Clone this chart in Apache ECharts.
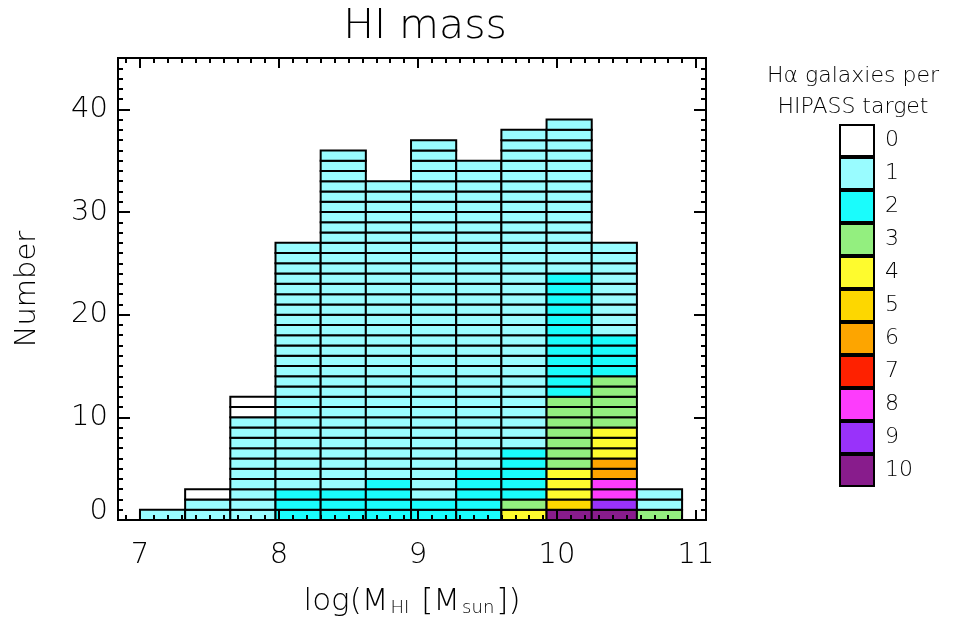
<!DOCTYPE html>
<html><head><meta charset="utf-8">
<script src="https://cdn.jsdelivr.net/npm/echarts@6/dist/echarts.min.js"></script>
<style>html,body{margin:0;padding:0;background:#fff}#c{width:953px;height:623px}</style>
</head><body><div id="c"></div>
<script>
// ---- data ----
const categories = ['0','1','2','3','4','5','6','7','8','9','10'];
const catColors = ['#ffffff','#99fcff','#1afcfc','#93ef7f','#fefb2e','#fdd700','#fda500','#fe2100','#fd3cfc','#9932fa','#881c8c'];
const binLo = [7.000, 7.325, 7.650, 7.975, 8.300, 8.625, 8.950, 9.275, 9.600, 9.925, 10.250, 10.575];
const binWidth = 0.325;
// counts per category (number of Halpha galaxies per HIPASS target), per bin
const n0  = [0,1,2,0,0,0,0,0,0,0,0,0];
const n1  = [1,2,10,24,33,29,35,30,31,15,9,2];
const n2  = [0,0,0,3,3,4,2,5,5,12,4,0];
const n3  = [0,0,0,0,0,0,0,0,1,7,5,1];
const n4  = [0,0,0,0,0,0,0,0,1,3,3,0];
const n5  = [0,0,0,0,0,0,0,0,0,1,0,0];
const n6  = [0,0,0,0,0,0,0,0,0,0,2,0];
const n7  = [0,0,0,0,0,0,0,0,0,0,0,0];
const n8  = [0,0,0,0,0,0,0,0,0,0,2,0];
const n9  = [0,0,0,0,0,0,0,0,0,0,1,0];
const n10 = [0,0,0,0,0,0,0,0,0,1,1,0];
const xTickValues = [7,8,9,10,11];
const yTickValues = [0,10,20,30,40];
const xRange = [6.842, 11.072];
const yRange = [0, 45];

// ---- build ----
const counts = [n0,n1,n2,n3,n4,n5,n6,n7,n8,n9,n10];
const cells = [];
binLo.forEach((x0, b) => {
  let level = 0;
  for (let c = 10; c >= 0; c--) {
    for (let k = 0; k < counts[c][b]; k++) { cells.push([x0, level, c]); level++; }
  }
});
const xMinor = [];
for (let i = Math.ceil(xRange[0]*10); i <= Math.floor(xRange[1]*10); i++) if (i % 10 !== 0) xMinor.push(i/10);
const yMinor = [];
for (let i = 1; i < yRange[1]; i++) if (i % 10 !== 0) yMinor.push(i);

const FONT = 'DejaVu Sans';
const FW = 200;
const chart = echarts.init(document.getElementById('c'), null, {renderer: 'canvas'});

function xAx(pos, tickVals, len, labels) {
  return {
    type: 'value', gridIndex: 0, position: pos, offset: 0, min: xRange[0], max: xRange[1], z: 10,
    axisLine: {show: false, onZero: false}, splitLine: {show: false},
    axisTick: {show: true, inside: true, length: len, customValues: tickVals, lineStyle: {color: '#000', width: 2}},
    axisLabel: labels ? {show: true, customValues: xTickValues, margin: 21, color: '#000', fontFamily: FONT, fontWeight: FW, fontSize: 29} : {show: false}
  };
}
function yAx(pos, tickVals, len, labels) {
  return {
    type: 'value', gridIndex: 0, position: pos, offset: 0, min: yRange[0], max: yRange[1], z: 10,
    axisLine: {show: false, onZero: false}, splitLine: {show: false},
    axisTick: {show: true, inside: true, length: len, customValues: tickVals, lineStyle: {color: '#000', width: 2}},
    axisLabel: labels ? {show: true, customValues: yTickValues, margin: 10, color: '#000', fontFamily: FONT, fontWeight: FW, fontSize: 29, verticalAlignMinLabel: 'bottom', padding: [0,0,-6,0]} : {show: false}
  };
}

const xMain = xAx('bottom', xTickValues, 10, true);
xMain.name = '{n|log(M}{s|HI}{n| [M}{s|sun}{n|])}';
xMain.nameLocation = 'middle';
xMain.nameGap = 66;
xMain.nameTextStyle = {rich: {
  n: {fontFamily: FONT, fontWeight: FW, fontSize: 31, color: '#000', verticalAlign: 'bottom'},
  s: {fontFamily: FONT, fontWeight: FW, fontSize: 18, color: '#000', verticalAlign: 'bottom', padding: [0,2,0,2]}
}};
const yMain = yAx('left', yTickValues, 12, true);
yMain.name = 'Number';
yMain.nameLocation = 'middle';
yMain.nameGap = 76;
yMain.nameTextStyle = {fontFamily: FONT, fontWeight: FW, fontSize: 29, color: '#000'};

const option = {
  backgroundColor: '#fff',
  animation: false,
  title: [
    {text: 'HI mass', left: 420, top: 2, textAlign: 'center',
     textStyle: {fontFamily: FONT, fontSize: 41, fontWeight: FW, color: '#000'}},
    {text: 'H\u03b1 galaxies per\nHIPASS target', left: 848, top: 56, textAlign: 'center',
     textStyle: {fontFamily: FONT, fontSize: 22, fontWeight: FW, color: '#000', lineHeight: 31}}
  ],
  grid: [
    {left: 118, top: 58, width: 588, height: 462, show: true, borderColor: '#000', borderWidth: 2, backgroundColor: 'transparent'},
    {left: 839, top: 124, width: 36, height: 363, show: false}
  ],
  xAxis: [
    xMain,
    xAx('top', xTickValues, 10, false),
    xAx('bottom', xMinor, 5, false),
    xAx('top', xMinor, 5, false),
    {type: 'value', gridIndex: 1, min: 0, max: 1, show: false}
  ],
  yAxis: [
    yMain,
    yAx('right', yTickValues, 12, false),
    yAx('left', yMinor, 5, false),
    yAx('right', yMinor, 5, false),
    {type: 'category', gridIndex: 1, data: categories, inverse: true, position: 'right',
     axisLine: {show: false}, axisTick: {show: false}, splitLine: {show: false},
     axisLabel: {margin: 10, color: '#000', fontFamily: FONT, fontWeight: FW, fontSize: 22}}
  ],
  series: [
    {
      type: 'custom', xAxisIndex: 0, yAxisIndex: 0, z: 2,
      data: cells,
      renderItem: function (params, api) {
        const x0 = api.value(0), lv = api.value(1), c = api.value(2);
        const p0 = api.coord([x0, lv]);
        const p1 = api.coord([x0 + binWidth, lv + 1]);
        return {
          type: 'rect',
          shape: {x: p0[0], y: p1[1], width: p1[0] - p0[0], height: p0[1] - p1[1]},
          style: {fill: catColors[c], stroke: '#000', lineWidth: 2}
        };
      }
    },
    {
      type: 'bar', xAxisIndex: 4, yAxisIndex: 4, barCategoryGap: '0%', z: 2,
      data: categories.map((c, i) => ({value: 1, itemStyle: {color: catColors[i]}})),
      itemStyle: {borderColor: '#000', borderWidth: 2}
    }
  ]
};
chart.setOption(option);
</script>
</body></html>
